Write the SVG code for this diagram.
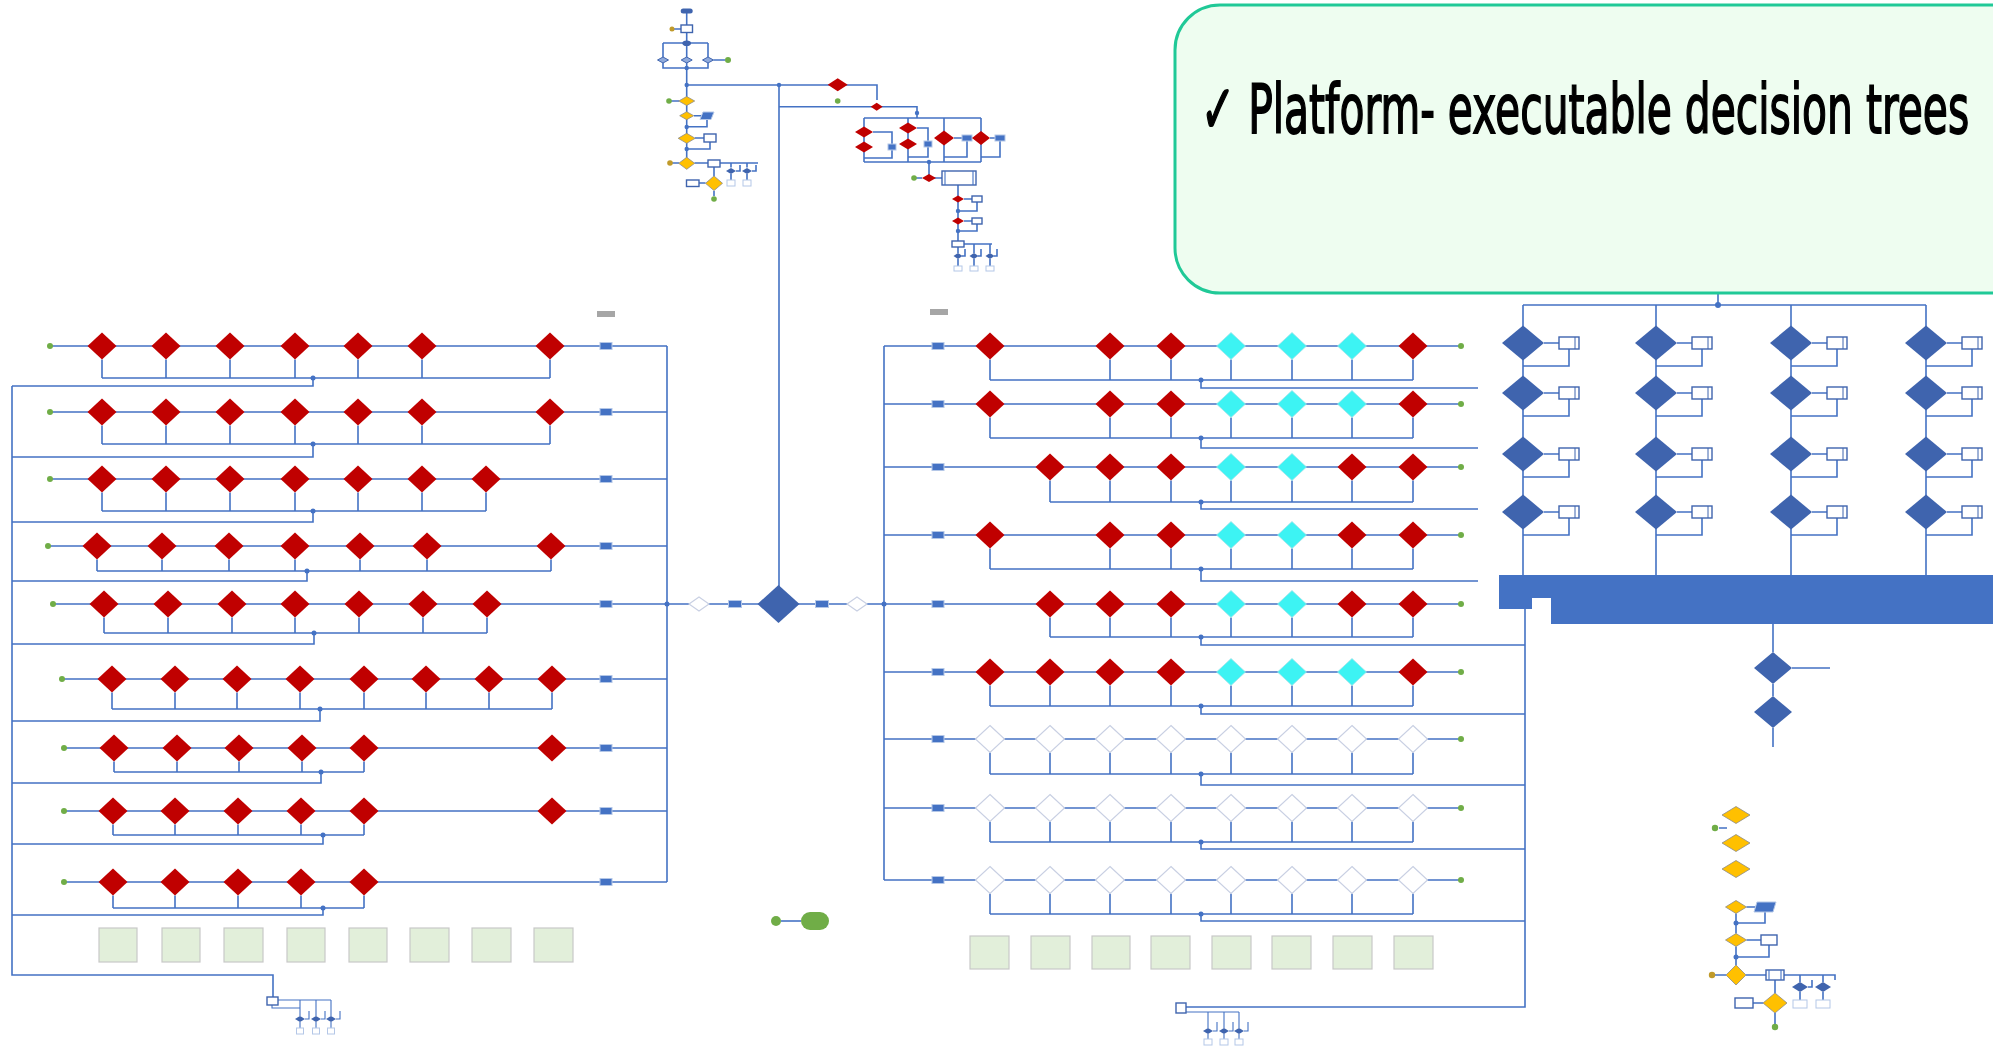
<svg xmlns="http://www.w3.org/2000/svg" xmlns:xlink="http://www.w3.org/1999/xlink" width="1993" height="1052" viewBox="0 0 1993 1052">
<style>
.c{fill:none;stroke:#4472C4;stroke-width:1.6}
.ct{fill:none;stroke:#4472C4;stroke-width:1.1}
.red{fill:#C00000}
.cyan{fill:#3DF3F3;stroke:#A6E3EA;stroke-width:0.8}
.wht{fill:#fff;stroke:#C9D0E3;stroke-width:1.2}
.blu{fill:#3F64AE}
.sbd{fill:#8FAADC;stroke:#3F64AE;stroke-width:1}
.yel{fill:#FFC000;stroke:#8C8C8C;stroke-width:0.8}
.bx{fill:#4472C4;stroke:#B4C7E7;stroke-width:1}
.bxo{fill:#fff;stroke:#3F64AE;stroke-width:1.4}
.gdot{fill:#70AD47}
.odot{fill:#C09A2A}
.jdot{fill:#4472C4}
.gbox{fill:#E2EFDA;stroke:#C8C8C8;stroke-width:1.2}
.doc{fill:#fff;stroke:#B4C7E7;stroke-width:1}
.grey{fill:#A6A6A6}
</style>
<defs>
<path id="dm" d="M0,-13.5L14.5,0L0,13.5L-14.5,0Z"/>
<path id="dg" d="M0,-17.5L21,0L0,17.5L-21,0Z"/>
<path id="ds" d="M0,-7L10,0L0,7L-10,0Z"/>
<g id="gb"><rect x="0" y="0" width="20" height="12" fill="#fff" stroke="#3F64AE" stroke-width="1.4"/><path d="M16,0V12" stroke="#3F64AE" stroke-width="1"/></g>
</defs>
<rect width="1993" height="1052" fill="#fff"/>

<g id="connectors">
<path class="c" d="M50,346H667 M102,359.5V378 M166,359.5V378 M230,359.5V378 M295,359.5V378 M358,359.5V378 M422,359.5V378 M550,359.5V378 M102,378H550 M313,378V386H12"/>
<path class="c" d="M50,412H667 M102,425.5V444 M166,425.5V444 M230,425.5V444 M295,425.5V444 M358,425.5V444 M422,425.5V444 M550,425.5V444 M102,444H550 M313,444V457H12"/>
<path class="c" d="M50,479H667 M102,492.5V511 M166,492.5V511 M230,492.5V511 M295,492.5V511 M358,492.5V511 M422,492.5V511 M486,492.5V511 M102,511H486 M313,511V522H12"/>
<path class="c" d="M48,546H667 M97,559.5V571 M162,559.5V571 M229,559.5V571 M295,559.5V571 M360,559.5V571 M427,559.5V571 M551,559.5V571 M97,571H551 M307,571V581H12"/>
<path class="c" d="M53,604H667 M104,617.5V633 M168,617.5V633 M232,617.5V633 M295,617.5V633 M359,617.5V633 M423,617.5V633 M487,617.5V633 M104,633H487 M314,633V644H12"/>
<path class="c" d="M62,679H667 M112,692.5V709 M175,692.5V709 M237,692.5V709 M300,692.5V709 M364,692.5V709 M426,692.5V709 M489,692.5V709 M552,692.5V709 M112,709H552 M320,709V721H12"/>
<path class="c" d="M64,748H667 M114,761.5V772 M177,761.5V772 M239,761.5V772 M302,761.5V772 M364,761.5V772 M114,772H364 M321,772V783H12"/>
<path class="c" d="M64,811H667 M113,824.5V835 M175,824.5V835 M238,824.5V835 M301,824.5V835 M364,824.5V835 M113,835H364 M323,835V844H12"/>
<path class="c" d="M64,882H667 M113,895.5V908 M175,895.5V908 M238,895.5V908 M301,895.5V908 M364,895.5V908 M113,908H364 M323,908V915H12"/>
<path class="c" d="M12,386V975H273V997 M667,346V882 M667,604H884 M779,85V604"/>
<path class="c" d="M884,346V880 M1525,609V1007H1181V1003"/>
<path class="c" d="M884,346H1461 M990,359.5V380 M1110,359.5V380 M1171,359.5V380 M1231,359.5V380 M1292,359.5V380 M1352,359.5V380 M1413,359.5V380 M990,380H1413 M1201,380V388H1478"/>
<path class="c" d="M884,404H1461 M990,417.5V438 M1110,417.5V438 M1171,417.5V438 M1231,417.5V438 M1292,417.5V438 M1352,417.5V438 M1413,417.5V438 M990,438H1413 M1201,438V448H1478"/>
<path class="c" d="M884,467H1461 M1050,480.5V502 M1110,480.5V502 M1171,480.5V502 M1231,480.5V502 M1292,480.5V502 M1352,480.5V502 M1413,480.5V502 M1050,502H1413 M1201,502V509H1478"/>
<path class="c" d="M884,535H1461 M990,548.5V569 M1110,548.5V569 M1171,548.5V569 M1231,548.5V569 M1292,548.5V569 M1352,548.5V569 M1413,548.5V569 M990,569H1413 M1201,569V581H1478"/>
<path class="c" d="M884,604H1461 M1050,617.5V637 M1110,617.5V637 M1171,617.5V637 M1231,617.5V637 M1292,617.5V637 M1352,617.5V637 M1413,617.5V637 M1050,637H1413 M1201,637V645H1525"/>
<path class="c" d="M884,672H1461 M990,685.5V706 M1050,685.5V706 M1110,685.5V706 M1171,685.5V706 M1231,685.5V706 M1292,685.5V706 M1352,685.5V706 M1413,685.5V706 M990,706H1413 M1201,706V714H1525"/>
<path class="c" d="M884,739H1461 M990,752.5V774 M1050,752.5V774 M1110,752.5V774 M1171,752.5V774 M1231,752.5V774 M1292,752.5V774 M1352,752.5V774 M1413,752.5V774 M990,774H1413 M1201,774V785H1525"/>
<path class="c" d="M884,808H1461 M990,821.5V842 M1050,821.5V842 M1110,821.5V842 M1171,821.5V842 M1231,821.5V842 M1292,821.5V842 M1352,821.5V842 M1413,821.5V842 M990,842H1413 M1201,842V849H1525"/>
<path class="c" d="M884,880H1461 M990,893.5V914 M1050,893.5V914 M1110,893.5V914 M1171,893.5V914 M1231,893.5V914 M1292,893.5V914 M1352,893.5V914 M1413,893.5V914 M990,914H1413 M1201,914V921H1525"/>
<path class="c" d="M1718,293V305 M1523,305H1926 M1523,305V575 M1656,305V575 M1791,305V575 M1926,305V575"/>
<path class="c" d="M1544,343H1559 M1569,349V366H1523 M1544,393H1559 M1569,399V416H1523 M1544,454H1559 M1569,460V477H1523 M1544,512H1559 M1569,518V535H1523"/>
<path class="c" d="M1677,343H1692 M1702,349V366H1656 M1677,393H1692 M1702,399V416H1656 M1677,454H1692 M1702,460V477H1656 M1677,512H1692 M1702,518V535H1656"/>
<path class="c" d="M1812,343H1827 M1837,349V366H1791 M1812,393H1827 M1837,399V416H1791 M1812,454H1827 M1837,460V477H1791 M1812,512H1827 M1837,518V535H1791"/>
<path class="c" d="M1947,343H1962 M1972,349V366H1926 M1947,393H1962 M1972,399V416H1926 M1947,454H1962 M1972,460V477H1926 M1947,512H1962 M1972,518V535H1926"/>
<path class="c" d="M1773,624V652 M1792,668H1830 M1773,684V696 M1773,728V747"/>
<path class="c" d="M686.7,11V163 M672,29H681 M663,43H708 M663,43V57 M708,43V57 M663,63V68H708V63 M713.5,60H725 M686.7,85H877V100 M779,106.7H917V118 M864,118H981"/>
<path class="c" d="M864,118V162 M873,132H892V144 M892,150V158H864 M908,118V162 M917,128H928V141 M928,147V157H908 M944,118V162 M954,138H962 M967,141V157H944 M981,118V162 M990,138H995 M1000,141V157H981 M864,162H981"/>
<path class="c" d="M929,162V178H942 M914,178H922 M958,185V241 M964,199H972 M977,202V211H958 M964,221H972 M977,224V231H958 M964,244H992 M958,247V253 M974,244V253 M990,244V253 M958,259V266 M974,259V266 M990,259V266 M962,256H965V249 M978,256H981V249 M994,256H997V249"/>
<path class="c" d="M669,101H679 M694,115.7H701 M707,119.5V126.7H686.7 M695,138H704 M710,142V149H686.7 M670,163H679 M694.5,163H708 M720,163H758 M731,163V167.5 M747,163V167.5 M736,171H740V165 M752,171H756V165 M731,174V180 M747,174V180 M714,167V176 M699,183H705.5 M714,191V196"/>
<path class="c" d="M1719,828H1727 M1746.5,907H1755 M1765,912V923H1736 M1736,913.5V933.5 M1746.5,940H1761 M1769,945V957H1736 M1736,946.5V965 M1715,975H1726 M1746,975H1766 M1784,975H1835V980 M1800,975V982 M1823,975V982 M1808,987H1812V980 M1800,992V1000 M1823,992V1000 M1775,980V993 M1753,1003H1763 M1775,1013V1024"/>
<path class="ct" d="M278,1000H331 M300,1000V1016 M316,1000V1016 M331,1000V1016 M305,1019H309V1011 M321,1019H325V1011 M336,1019H340V1011 M300,1022V1028 M316,1022V1028 M331,1022V1028 M272,1005V1008H300"/>
<path class="ct" d="M1186,1012H1239 M1208,1012V1028 M1224,1012V1028 M1239,1012V1028 M1213,1031H1217V1022 M1229,1031H1233V1022 M1244,1031H1248V1022 M1208,1034V1039 M1224,1034V1039 M1239,1034V1039"/>
<path class="c" d="M781,921H801"/>
</g>

<g id="junctions">
<circle class="jdot" cx="313" cy="378" r="2.5"/><circle class="jdot" cx="313" cy="444" r="2.5"/><circle class="jdot" cx="313" cy="511" r="2.5"/><circle class="jdot" cx="307" cy="571" r="2.5"/><circle class="jdot" cx="314" cy="633" r="2.5"/><circle class="jdot" cx="320" cy="709" r="2.5"/><circle class="jdot" cx="321" cy="772" r="2.5"/><circle class="jdot" cx="323" cy="835" r="2.5"/><circle class="jdot" cx="323" cy="908" r="2.5"/><circle class="jdot" cx="667" cy="604" r="2.5"/><circle class="jdot" cx="884" cy="604" r="2.5"/>
<circle class="jdot" cx="1201" cy="380" r="2.5"/><circle class="jdot" cx="1201" cy="438" r="2.5"/><circle class="jdot" cx="1201" cy="502" r="2.5"/><circle class="jdot" cx="1201" cy="569" r="2.5"/><circle class="jdot" cx="1201" cy="637" r="2.5"/><circle class="jdot" cx="1201" cy="706" r="2.5"/><circle class="jdot" cx="1201" cy="774" r="2.5"/><circle class="jdot" cx="1201" cy="842" r="2.5"/><circle class="jdot" cx="1201" cy="914" r="2.5"/>
<circle class="jdot" cx="1718" cy="305" r="3"/><circle class="jdot" cx="779" cy="85" r="2.2"/><circle class="jdot" cx="917" cy="113" r="2.2"/><circle class="jdot" cx="929" cy="162" r="2.2"/><circle class="jdot" cx="958" cy="211" r="2.2"/><circle class="jdot" cx="958" cy="231" r="2.2"/><circle class="jdot" cx="686.7" cy="68" r="2.2"/><circle class="jdot" cx="686.7" cy="85" r="2.2"/><circle class="jdot" cx="686.7" cy="127" r="2.2"/><circle class="jdot" cx="686.7" cy="149" r="2.2"/><circle class="jdot" cx="1736" cy="923" r="2.5"/><circle class="jdot" cx="1736" cy="957" r="2.5"/>
</g>

<g id="title-box">
<rect x="1175" y="5" width="880" height="288" rx="45" fill="#EEFDF0" stroke="#20C997" stroke-width="3"/>
<text transform="translate(1201,133) scale(0.6,1)" x="0" y="0" font-family="DejaVu Sans, sans-serif" font-size="68" fill="#000" stroke="#000" stroke-width="1.8">✓ Platform- executable decision trees</text>
</g>

<g id="left-block">
<g id="L1-s"><circle class="gdot" cx="50" cy="346" r="3"/></g>
<g id="L1-1"><use href="#dm" class="red" x="102" y="346"/></g><g id="L1-2"><use href="#dm" class="red" x="166" y="346"/></g><g id="L1-3"><use href="#dm" class="red" x="230" y="346"/></g><g id="L1-4"><use href="#dm" class="red" x="295" y="346"/></g><g id="L1-5"><use href="#dm" class="red" x="358" y="346"/></g><g id="L1-6"><use href="#dm" class="red" x="422" y="346"/></g><g id="L1-8"><use href="#dm" class="red" x="550" y="346"/></g>
<g id="L1-b"><rect class="bx" x="600" y="342.5" width="12" height="7"/></g>
<g id="L2-s"><circle class="gdot" cx="50" cy="412" r="3"/></g>
<g id="L2-1"><use href="#dm" class="red" x="102" y="412"/></g><g id="L2-2"><use href="#dm" class="red" x="166" y="412"/></g><g id="L2-3"><use href="#dm" class="red" x="230" y="412"/></g><g id="L2-4"><use href="#dm" class="red" x="295" y="412"/></g><g id="L2-5"><use href="#dm" class="red" x="358" y="412"/></g><g id="L2-6"><use href="#dm" class="red" x="422" y="412"/></g><g id="L2-8"><use href="#dm" class="red" x="550" y="412"/></g>
<g id="L2-b"><rect class="bx" x="600" y="408.5" width="12" height="7"/></g>
<g id="L3-s"><circle class="gdot" cx="50" cy="479" r="3"/></g>
<g id="L3-1"><use href="#dm" class="red" x="102" y="479"/></g><g id="L3-2"><use href="#dm" class="red" x="166" y="479"/></g><g id="L3-3"><use href="#dm" class="red" x="230" y="479"/></g><g id="L3-4"><use href="#dm" class="red" x="295" y="479"/></g><g id="L3-5"><use href="#dm" class="red" x="358" y="479"/></g><g id="L3-6"><use href="#dm" class="red" x="422" y="479"/></g><g id="L3-7"><use href="#dm" class="red" x="486" y="479"/></g>
<g id="L3-b"><rect class="bx" x="600" y="475.5" width="12" height="7"/></g>
<g id="L4-s"><circle class="gdot" cx="48" cy="546" r="3"/></g>
<g id="L4-1"><use href="#dm" class="red" x="97" y="546"/></g><g id="L4-2"><use href="#dm" class="red" x="162" y="546"/></g><g id="L4-3"><use href="#dm" class="red" x="229" y="546"/></g><g id="L4-4"><use href="#dm" class="red" x="295" y="546"/></g><g id="L4-5"><use href="#dm" class="red" x="360" y="546"/></g><g id="L4-6"><use href="#dm" class="red" x="427" y="546"/></g><g id="L4-8"><use href="#dm" class="red" x="551" y="546"/></g>
<g id="L4-b"><rect class="bx" x="600" y="542.5" width="12" height="7"/></g>
<g id="L5-s"><circle class="gdot" cx="53" cy="604" r="3"/></g>
<g id="L5-1"><use href="#dm" class="red" x="104" y="604"/></g><g id="L5-2"><use href="#dm" class="red" x="168" y="604"/></g><g id="L5-3"><use href="#dm" class="red" x="232" y="604"/></g><g id="L5-4"><use href="#dm" class="red" x="295" y="604"/></g><g id="L5-5"><use href="#dm" class="red" x="359" y="604"/></g><g id="L5-6"><use href="#dm" class="red" x="423" y="604"/></g><g id="L5-7"><use href="#dm" class="red" x="487" y="604"/></g>
<g id="L5-b"><rect class="bx" x="600" y="600.5" width="12" height="7"/></g>
<g id="L6-s"><circle class="gdot" cx="62" cy="679" r="3"/></g>
<g id="L6-1"><use href="#dm" class="red" x="112" y="679"/></g><g id="L6-2"><use href="#dm" class="red" x="175" y="679"/></g><g id="L6-3"><use href="#dm" class="red" x="237" y="679"/></g><g id="L6-4"><use href="#dm" class="red" x="300" y="679"/></g><g id="L6-5"><use href="#dm" class="red" x="364" y="679"/></g><g id="L6-6"><use href="#dm" class="red" x="426" y="679"/></g><g id="L6-7"><use href="#dm" class="red" x="489" y="679"/></g><g id="L6-8"><use href="#dm" class="red" x="552" y="679"/></g>
<g id="L6-b"><rect class="bx" x="600" y="675.5" width="12" height="7"/></g>
<g id="L7-s"><circle class="gdot" cx="64" cy="748" r="3"/></g>
<g id="L7-1"><use href="#dm" class="red" x="114" y="748"/></g><g id="L7-2"><use href="#dm" class="red" x="177" y="748"/></g><g id="L7-3"><use href="#dm" class="red" x="239" y="748"/></g><g id="L7-4"><use href="#dm" class="red" x="302" y="748"/></g><g id="L7-5"><use href="#dm" class="red" x="364" y="748"/></g><g id="L7-8"><use href="#dm" class="red" x="552" y="748"/></g>
<g id="L7-b"><rect class="bx" x="600" y="744.5" width="12" height="7"/></g>
<g id="L8-s"><circle class="gdot" cx="64" cy="811" r="3"/></g>
<g id="L8-1"><use href="#dm" class="red" x="113" y="811"/></g><g id="L8-2"><use href="#dm" class="red" x="175" y="811"/></g><g id="L8-3"><use href="#dm" class="red" x="238" y="811"/></g><g id="L8-4"><use href="#dm" class="red" x="301" y="811"/></g><g id="L8-5"><use href="#dm" class="red" x="364" y="811"/></g><g id="L8-8"><use href="#dm" class="red" x="552" y="811"/></g>
<g id="L8-b"><rect class="bx" x="600" y="807.5" width="12" height="7"/></g>
<g id="L9-s"><circle class="gdot" cx="64" cy="882" r="3"/></g>
<g id="L9-1"><use href="#dm" class="red" x="113" y="882"/></g><g id="L9-2"><use href="#dm" class="red" x="175" y="882"/></g><g id="L9-3"><use href="#dm" class="red" x="238" y="882"/></g><g id="L9-4"><use href="#dm" class="red" x="301" y="882"/></g><g id="L9-5"><use href="#dm" class="red" x="364" y="882"/></g>
<g id="L9-b"><rect class="bx" x="600" y="878.5" width="12" height="7"/></g>
<g id="L-grey"><rect class="grey" x="597" y="311" width="18" height="6"/></g>
<g id="LG1"><rect class="gbox" x="99" y="928" width="38" height="34"/></g><g id="LG2"><rect class="gbox" x="162" y="928" width="38" height="34"/></g><g id="LG3"><rect class="gbox" x="224" y="928" width="39" height="34"/></g><g id="LG4"><rect class="gbox" x="287" y="928" width="38" height="34"/></g><g id="LG5"><rect class="gbox" x="349" y="928" width="38" height="34"/></g><g id="LG6"><rect class="gbox" x="410" y="928" width="39" height="34"/></g><g id="LG7"><rect class="gbox" x="472" y="928" width="39" height="34"/></g><g id="LG8"><rect class="gbox" x="534" y="928" width="39" height="34"/></g>
<g id="LT-box"><rect class="bxo" x="267" y="997" width="11" height="8"/></g>
<g id="LT-d1"><path class="blu" d="M295,1019L300,1016L305,1019L300,1022Z"/></g><g id="LT-d2"><path class="blu" d="M311,1019L316,1016L321,1019L316,1022Z"/></g><g id="LT-d3"><path class="blu" d="M326,1019L331,1016L336,1019L331,1022Z"/></g>
<g id="LT-o1"><rect class="doc" x="296.5" y="1028" width="7" height="6"/></g><g id="LT-o2"><rect class="doc" x="312.5" y="1028" width="7" height="6"/></g><g id="LT-o3"><rect class="doc" x="327.5" y="1028" width="7" height="6"/></g>
</g>

<g id="center">
<g id="C-d1"><use href="#ds" class="wht" x="699" y="604"/></g>
<g id="C-b1"><rect class="bx" x="728.5" y="600.5" width="13" height="7"/></g>
<g id="C-main"><path class="blu" d="M778.5,585L799.5,604L778.5,623L757.5,604Z"/></g>
<g id="C-b2"><rect class="bx" x="815.5" y="600.5" width="13" height="7"/></g>
<g id="C-d2"><use href="#ds" class="wht" x="857" y="604"/></g>
<g id="C-start"><circle class="gdot" cx="776" cy="921" r="5"/></g>
<g id="C-end"><rect class="gdot" x="801" y="912" width="28" height="18" rx="9"/></g>
</g>

<g id="top-flow">
<g id="T-term"><rect class="blu" x="680.7" y="8.5" width="12" height="5" rx="2.5"/></g>
<g id="T-in"><circle class="odot" cx="672" cy="29" r="2.5"/></g>
<g id="T-box1"><rect class="bxo" x="681" y="25" width="11.5" height="7.5"/></g>
<g id="T-ell"><ellipse class="blu" cx="686.7" cy="43.3" rx="4.3" ry="2.8"/></g>
<g id="T-s1"><path class="sbd" d="M657.5,60L663,57L668.5,60L663,63Z"/></g><g id="T-s2"><path class="sbd" d="M681.2,60L686.7,57L692.2,60L686.7,63Z"/></g><g id="T-s3"><path class="sbd" d="M702.5,60L708,57L713.5,60L708,63Z"/></g>
<g id="T-g1"><circle class="gdot" cx="728" cy="60" r="3"/></g>
<g id="T-y1"><path class="yel" d="M678.7,101L686.7,96.5L694.7,101L686.7,105.5Z"/></g><g id="T-g2"><circle class="gdot" cx="669" cy="101" r="2.8"/></g>
<g id="T-y2"><path class="yel" d="M679.7,115.7L686.7,111.7L693.7,115.7L686.7,119.7Z"/></g>
<g id="T-p1"><polygon class="bx" points="703,112 714,112 711,119.5 700,119.5"/></g>
<g id="T-y3"><path class="yel" d="M678.2,138.3L686.7,133.3L695.2,138.3L686.7,143.3Z"/></g>
<g id="T-b2"><rect class="bxo" x="704" y="134" width="12" height="8"/></g>
<g id="T-y4"><path class="yel" d="M678.7,163.3L686.7,157.3L694.7,163.3L686.7,169.3Z"/></g><g id="T-o2"><circle class="odot" cx="670" cy="163" r="2.8"/></g>
<g id="T-b3"><rect class="bxo" x="708" y="160" width="12" height="7"/></g>
<g id="T-s4"><path class="blu" d="M726,171L731,168L736,171L731,174Z"/></g><g id="T-s5"><path class="blu" d="M742,171L747,168L752,171L747,174Z"/></g>
<g id="T-k1"><rect class="doc" x="727" y="180" width="8" height="6"/></g><g id="T-k2"><rect class="doc" x="743" y="180" width="8" height="6"/></g>
<g id="T-y5"><path class="yel" d="M705.5,183.3L714,176L722.5,183.3L714,190.6Z"/></g>
<g id="T-b4"><rect class="bxo" x="686.5" y="180" width="12.5" height="6.5"/></g>
<g id="T-g3"><circle class="gdot" cx="714" cy="199" r="2.8"/></g>
<g id="T-r1"><path class="red" d="M827.7,84.7L837.7,78.2L847.7,84.7L837.7,91.2Z"/></g><g id="T-g4"><circle class="gdot" cx="837.7" cy="101" r="2.8"/></g>
<g id="T-r2"><path class="red" d="M870.7,106.7L876.7,102.7L882.7,106.7L876.7,110.7Z"/></g>
<g id="T-rA1"><path class="red" d="M855,132L864,126.5L873,132L864,137.5Z"/></g><g id="T-rA2"><path class="red" d="M855,147L864,141.5L873,147L864,152.5Z"/></g><g id="T-bA"><rect class="bx" x="888" y="144" width="8" height="6"/></g>
<g id="T-rB1"><path class="red" d="M899,128L908,122.5L917,128L908,133.5Z"/></g><g id="T-rB2"><path class="red" d="M899,144L908,138.5L917,144L908,149.5Z"/></g><g id="T-bB"><rect class="bx" x="924" y="141" width="8" height="6"/></g>
<g id="T-rC"><path class="red" d="M934,138L944,130.5L954,138L944,145.5Z"/></g><g id="T-bC"><rect class="bx" x="962" y="135" width="10" height="6"/></g>
<g id="T-rD"><path class="red" d="M972,138L981,131L990,138L981,145Z"/></g><g id="T-bD"><rect class="bx" x="995" y="135" width="10" height="6"/></g>
<g id="T-r3"><path class="red" d="M922,178L929,174L936,178L929,182Z"/></g><g id="T-g5"><circle class="gdot" cx="914" cy="178" r="2.8"/></g>
<g id="T-big"><rect class="bxo" x="942" y="171" width="34" height="14"/><path class="ct" d="M945,171V185 M973,171V185"/></g>
<g id="T-r4"><path class="red" d="M952,199L958,195.5L964,199L958,202.5Z"/></g><g id="T-b5"><rect class="bxo" x="972" y="196" width="10" height="6"/></g>
<g id="T-r5"><path class="red" d="M952,221L958,217.5L964,221L958,224.5Z"/></g><g id="T-b6"><rect class="bxo" x="972" y="218" width="10" height="6"/></g>
<g id="T-b7"><rect class="bxo" x="952" y="241" width="12" height="6"/></g>
<g id="T-s6"><path class="blu" d="M953.5,256L958,253L962.5,256L958,259Z"/></g><g id="T-s7"><path class="blu" d="M969.5,256L974,253L978.5,256L974,259Z"/></g><g id="T-s8"><path class="blu" d="M985.5,256L990,253L994.5,256L990,259Z"/></g>
<g id="T-k3"><rect class="doc" x="954" y="266" width="8" height="5"/></g><g id="T-k4"><rect class="doc" x="970" y="266" width="8" height="5"/></g><g id="T-k5"><rect class="doc" x="986" y="266" width="8" height="5"/></g>
</g>

<g id="right-block">
<g id="R-grey"><rect class="grey" x="930" y="309" width="18" height="6"/></g>
<g id="R1-b"><rect class="bx" x="932" y="342.5" width="12" height="7"/></g>
<g id="R1-1"><use href="#dm" class="red" x="990" y="346"/></g><g id="R1-3"><use href="#dm" class="red" x="1110" y="346"/></g><g id="R1-4"><use href="#dm" class="red" x="1171" y="346"/></g><g id="R1-5"><use href="#dm" class="cyan" x="1231" y="346"/></g><g id="R1-6"><use href="#dm" class="cyan" x="1292" y="346"/></g><g id="R1-7"><use href="#dm" class="cyan" x="1352" y="346"/></g><g id="R1-8"><use href="#dm" class="red" x="1413" y="346"/></g>
<g id="R1-e"><circle class="gdot" cx="1461" cy="346" r="3"/></g>
<g id="R2-b"><rect class="bx" x="932" y="400.5" width="12" height="7"/></g>
<g id="R2-1"><use href="#dm" class="red" x="990" y="404"/></g><g id="R2-3"><use href="#dm" class="red" x="1110" y="404"/></g><g id="R2-4"><use href="#dm" class="red" x="1171" y="404"/></g><g id="R2-5"><use href="#dm" class="cyan" x="1231" y="404"/></g><g id="R2-6"><use href="#dm" class="cyan" x="1292" y="404"/></g><g id="R2-7"><use href="#dm" class="cyan" x="1352" y="404"/></g><g id="R2-8"><use href="#dm" class="red" x="1413" y="404"/></g>
<g id="R2-e"><circle class="gdot" cx="1461" cy="404" r="3"/></g>
<g id="R3-b"><rect class="bx" x="932" y="463.5" width="12" height="7"/></g>
<g id="R3-2"><use href="#dm" class="red" x="1050" y="467"/></g><g id="R3-3"><use href="#dm" class="red" x="1110" y="467"/></g><g id="R3-4"><use href="#dm" class="red" x="1171" y="467"/></g><g id="R3-5"><use href="#dm" class="cyan" x="1231" y="467"/></g><g id="R3-6"><use href="#dm" class="cyan" x="1292" y="467"/></g><g id="R3-7"><use href="#dm" class="red" x="1352" y="467"/></g><g id="R3-8"><use href="#dm" class="red" x="1413" y="467"/></g>
<g id="R3-e"><circle class="gdot" cx="1461" cy="467" r="3"/></g>
<g id="R4-b"><rect class="bx" x="932" y="531.5" width="12" height="7"/></g>
<g id="R4-1"><use href="#dm" class="red" x="990" y="535"/></g><g id="R4-3"><use href="#dm" class="red" x="1110" y="535"/></g><g id="R4-4"><use href="#dm" class="red" x="1171" y="535"/></g><g id="R4-5"><use href="#dm" class="cyan" x="1231" y="535"/></g><g id="R4-6"><use href="#dm" class="cyan" x="1292" y="535"/></g><g id="R4-7"><use href="#dm" class="red" x="1352" y="535"/></g><g id="R4-8"><use href="#dm" class="red" x="1413" y="535"/></g>
<g id="R4-e"><circle class="gdot" cx="1461" cy="535" r="3"/></g>
<g id="R5-b"><rect class="bx" x="932" y="600.5" width="12" height="7"/></g>
<g id="R5-2"><use href="#dm" class="red" x="1050" y="604"/></g><g id="R5-3"><use href="#dm" class="red" x="1110" y="604"/></g><g id="R5-4"><use href="#dm" class="red" x="1171" y="604"/></g><g id="R5-5"><use href="#dm" class="cyan" x="1231" y="604"/></g><g id="R5-6"><use href="#dm" class="cyan" x="1292" y="604"/></g><g id="R5-7"><use href="#dm" class="red" x="1352" y="604"/></g><g id="R5-8"><use href="#dm" class="red" x="1413" y="604"/></g>
<g id="R5-e"><circle class="gdot" cx="1461" cy="604" r="3"/></g>
<g id="R6-b"><rect class="bx" x="932" y="668.5" width="12" height="7"/></g>
<g id="R6-1"><use href="#dm" class="red" x="990" y="672"/></g><g id="R6-2"><use href="#dm" class="red" x="1050" y="672"/></g><g id="R6-3"><use href="#dm" class="red" x="1110" y="672"/></g><g id="R6-4"><use href="#dm" class="red" x="1171" y="672"/></g><g id="R6-5"><use href="#dm" class="cyan" x="1231" y="672"/></g><g id="R6-6"><use href="#dm" class="cyan" x="1292" y="672"/></g><g id="R6-7"><use href="#dm" class="cyan" x="1352" y="672"/></g><g id="R6-8"><use href="#dm" class="red" x="1413" y="672"/></g>
<g id="R6-e"><circle class="gdot" cx="1461" cy="672" r="3"/></g>
<g id="R7-b"><rect class="bx" x="932" y="735.5" width="12" height="7"/></g>
<g id="R7-1"><use href="#dm" class="wht" x="990" y="739"/></g><g id="R7-2"><use href="#dm" class="wht" x="1050" y="739"/></g><g id="R7-3"><use href="#dm" class="wht" x="1110" y="739"/></g><g id="R7-4"><use href="#dm" class="wht" x="1171" y="739"/></g><g id="R7-5"><use href="#dm" class="wht" x="1231" y="739"/></g><g id="R7-6"><use href="#dm" class="wht" x="1292" y="739"/></g><g id="R7-7"><use href="#dm" class="wht" x="1352" y="739"/></g><g id="R7-8"><use href="#dm" class="wht" x="1413" y="739"/></g>
<g id="R7-e"><circle class="gdot" cx="1461" cy="739" r="3"/></g>
<g id="R8-b"><rect class="bx" x="932" y="804.5" width="12" height="7"/></g>
<g id="R8-1"><use href="#dm" class="wht" x="990" y="808"/></g><g id="R8-2"><use href="#dm" class="wht" x="1050" y="808"/></g><g id="R8-3"><use href="#dm" class="wht" x="1110" y="808"/></g><g id="R8-4"><use href="#dm" class="wht" x="1171" y="808"/></g><g id="R8-5"><use href="#dm" class="wht" x="1231" y="808"/></g><g id="R8-6"><use href="#dm" class="wht" x="1292" y="808"/></g><g id="R8-7"><use href="#dm" class="wht" x="1352" y="808"/></g><g id="R8-8"><use href="#dm" class="wht" x="1413" y="808"/></g>
<g id="R8-e"><circle class="gdot" cx="1461" cy="808" r="3"/></g>
<g id="R9-b"><rect class="bx" x="932" y="876.5" width="12" height="7"/></g>
<g id="R9-1"><use href="#dm" class="wht" x="990" y="880"/></g><g id="R9-2"><use href="#dm" class="wht" x="1050" y="880"/></g><g id="R9-3"><use href="#dm" class="wht" x="1110" y="880"/></g><g id="R9-4"><use href="#dm" class="wht" x="1171" y="880"/></g><g id="R9-5"><use href="#dm" class="wht" x="1231" y="880"/></g><g id="R9-6"><use href="#dm" class="wht" x="1292" y="880"/></g><g id="R9-7"><use href="#dm" class="wht" x="1352" y="880"/></g><g id="R9-8"><use href="#dm" class="wht" x="1413" y="880"/></g>
<g id="R9-e"><circle class="gdot" cx="1461" cy="880" r="3"/></g>
<g id="RG1"><rect class="gbox" x="970" y="936" width="39" height="33"/></g><g id="RG2"><rect class="gbox" x="1031" y="936" width="39" height="33"/></g><g id="RG3"><rect class="gbox" x="1092" y="936" width="38" height="33"/></g><g id="RG4"><rect class="gbox" x="1151" y="936" width="39" height="33"/></g><g id="RG5"><rect class="gbox" x="1212" y="936" width="39" height="33"/></g><g id="RG6"><rect class="gbox" x="1272" y="936" width="39" height="33"/></g><g id="RG7"><rect class="gbox" x="1333" y="936" width="39" height="33"/></g><g id="RG8"><rect class="gbox" x="1394" y="936" width="39" height="33"/></g>
<g id="RT-box"><rect class="bxo" x="1176" y="1003" width="10" height="10"/></g>
<g id="RT-d1"><path class="blu" d="M1203,1031L1208,1028L1213,1031L1208,1034Z"/></g><g id="RT-d2"><path class="blu" d="M1219,1031L1224,1028L1229,1031L1224,1034Z"/></g><g id="RT-d3"><path class="blu" d="M1234,1031L1239,1028L1244,1031L1239,1034Z"/></g>
<g id="RT-o1"><rect class="doc" x="1204" y="1039" width="8" height="6"/></g><g id="RT-o2"><rect class="doc" x="1220" y="1039" width="8" height="6"/></g><g id="RT-o3"><rect class="doc" x="1235" y="1039" width="8" height="6"/></g>
</g>

<g id="decision-grid">
<g id="G1-1"><use href="#dg" class="blu" x="1523" y="343"/></g><g id="G1-2"><use href="#dg" class="blu" x="1523" y="393"/></g><g id="G1-3"><use href="#dg" class="blu" x="1523" y="454"/></g><g id="G1-4"><use href="#dg" class="blu" x="1523" y="512"/></g>
<g id="G2-1"><use href="#dg" class="blu" x="1656" y="343"/></g><g id="G2-2"><use href="#dg" class="blu" x="1656" y="393"/></g><g id="G2-3"><use href="#dg" class="blu" x="1656" y="454"/></g><g id="G2-4"><use href="#dg" class="blu" x="1656" y="512"/></g>
<g id="G3-1"><use href="#dg" class="blu" x="1791" y="343"/></g><g id="G3-2"><use href="#dg" class="blu" x="1791" y="393"/></g><g id="G3-3"><use href="#dg" class="blu" x="1791" y="454"/></g><g id="G3-4"><use href="#dg" class="blu" x="1791" y="512"/></g>
<g id="G4-1"><use href="#dg" class="blu" x="1926" y="343"/></g><g id="G4-2"><use href="#dg" class="blu" x="1926" y="393"/></g><g id="G4-3"><use href="#dg" class="blu" x="1926" y="454"/></g><g id="G4-4"><use href="#dg" class="blu" x="1926" y="512"/></g>
<g id="GB1-1"><use href="#gb" x="1559" y="337"/></g><g id="GB1-2"><use href="#gb" x="1559" y="387"/></g><g id="GB1-3"><use href="#gb" x="1559" y="448"/></g><g id="GB1-4"><use href="#gb" x="1559" y="506"/></g>
<g id="GB2-1"><use href="#gb" x="1692" y="337"/></g><g id="GB2-2"><use href="#gb" x="1692" y="387"/></g><g id="GB2-3"><use href="#gb" x="1692" y="448"/></g><g id="GB2-4"><use href="#gb" x="1692" y="506"/></g>
<g id="GB3-1"><use href="#gb" x="1827" y="337"/></g><g id="GB3-2"><use href="#gb" x="1827" y="387"/></g><g id="GB3-3"><use href="#gb" x="1827" y="448"/></g><g id="GB3-4"><use href="#gb" x="1827" y="506"/></g>
<g id="GB4-1"><use href="#gb" x="1962" y="337"/></g><g id="GB4-2"><use href="#gb" x="1962" y="387"/></g><g id="GB4-3"><use href="#gb" x="1962" y="448"/></g><g id="GB4-4"><use href="#gb" x="1962" y="506"/></g>
<g id="G-bar"><polygon fill="#4472C4" points="1499,575 1993,575 1993,624 1551,624 1551,598 1532,598 1532,609 1499,609"/></g>
<g id="G-d1"><path class="blu" d="M1754,668L1773,652L1792,668L1773,684Z"/></g>
<g id="G-d2"><path class="blu" d="M1754,712L1773,696L1792,712L1773,728Z"/></g>
</g>

<g id="yellow-stack">
<g id="Y1"><path class="yel" d="M1722,815L1736,806.5L1750,815L1736,823.5Z"/></g>
<g id="Y-g1"><circle class="gdot" cx="1715" cy="828" r="3.2"/></g>
<g id="Y2"><path class="yel" d="M1722,843L1736,834.5L1750,843L1736,851.5Z"/></g>
<g id="Y3"><path class="yel" d="M1722,869L1736,860.5L1750,869L1736,877.5Z"/></g>
<g id="Y4"><path class="yel" d="M1725.5,907L1736,900.5L1746.5,907L1736,913.5Z"/></g>
<g id="Y-p"><polygon class="bx" points="1757,902 1776,902 1773,912 1754,912"/></g>
<g id="Y5"><path class="yel" d="M1725.5,940L1736,933.5L1746.5,940L1736,946.5Z"/></g>
<g id="Y-b1"><rect class="bxo" x="1761" y="935" width="16" height="10"/></g>
<g id="Y6"><path class="yel" d="M1726,975L1736,965L1746,975L1736,985Z"/></g>
<g id="Y-o"><circle class="odot" cx="1712" cy="975" r="3.2"/></g>
<g id="Y-b2"><rect class="bxo" x="1766" y="970" width="18" height="10"/><path class="ct" d="M1769,970V980 M1781,970V980"/></g>
<g id="Y-s1"><path class="blu" d="M1792,987L1800,982L1808,987L1800,992Z"/></g><g id="Y-s2"><path class="blu" d="M1815,987L1823,982L1831,987L1823,992Z"/></g>
<g id="Y-k1"><rect class="doc" x="1793" y="1000" width="14" height="8"/></g><g id="Y-k2"><rect class="doc" x="1816" y="1000" width="14" height="8"/></g>
<g id="Y7"><path class="yel" d="M1763,1003L1775,993L1787,1003L1775,1013Z"/></g>
<g id="Y-b3"><rect class="bxo" x="1735" y="998" width="18" height="10"/></g>
<g id="Y-g2"><circle class="gdot" cx="1775" cy="1027" r="3.2"/></g>
</g>
</svg>
